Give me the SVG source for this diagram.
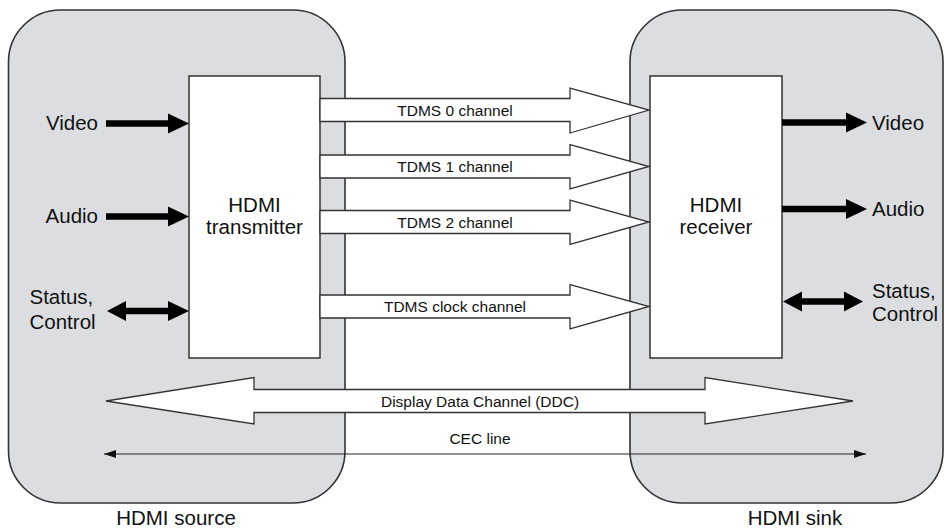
<svg xmlns="http://www.w3.org/2000/svg" width="950" height="528" viewBox="0 0 950 528">
<style>
.panel{fill:#dcdde0;stroke:#333;stroke-width:1.6}
.box{fill:#fff;stroke:#333;stroke-width:1.5}
.thick{fill:#000}
.wide{fill:#fff;stroke:#333;stroke-width:1.3;stroke-linejoin:miter}
.big{font-family:"Liberation Sans",Arial,sans-serif;font-size:20.5px;fill:#111}
.small{font-family:"Liberation Sans",Arial,sans-serif;font-size:15.5px;fill:#111;text-anchor:middle}
.cec{stroke:#222;stroke-width:1.2;fill:none}
</style>
<defs>
<marker id="ah" viewBox="0 0 12 8" refX="12" refY="4" markerWidth="12" markerHeight="8" markerUnits="userSpaceOnUse" orient="auto-start-reverse">
<path d="M0,0 L12,4 L0,8 Z" fill="#111"/>
</marker>
</defs>
<g id="hdmi-source">
<rect class="panel" x="8.5" y="10" width="336.5" height="493" rx="52" ry="52"/>
<text class="big" x="176" y="525" text-anchor="middle">HDMI source</text>
</g>
<g id="hdmi-sink">
<rect class="panel" x="630" y="10" width="313" height="493" rx="52" ry="52"/>
<text class="big" x="795" y="525" text-anchor="middle">HDMI sink</text>
</g>
<g id="transmitter">
<rect class="box" x="189" y="76" width="131" height="282"/>
<text class="big" x="254.5" y="212" text-anchor="middle">HDMI</text>
<text class="big" x="254.5" y="234" text-anchor="middle">transmitter</text>
</g>
<g id="receiver">
<rect class="box" x="650" y="76" width="132" height="282"/>
<text class="big" x="716" y="212" text-anchor="middle">HDMI</text>
<text class="big" x="716" y="234" text-anchor="middle">receiver</text>
</g>
<g id="src-video">
<text class="big" x="98" y="130" text-anchor="end">Video</text>
</g>
<g id="src-audio">
<text class="big" x="98" y="223" text-anchor="end">Audio</text>
</g>
<g id="src-status">
<text class="big" x="29.5" y="304">Status,</text>
<text class="big" x="29.5" y="329">Control</text>
</g>
<g id="sink-video">
<text class="big" x="872" y="129.5">Video</text>
</g>
<g id="sink-audio">
<text class="big" x="872" y="216">Audio</text>
</g>
<g id="sink-status">
<text class="big" x="872" y="298">Status,</text>
<text class="big" x="872" y="321">Control</text>
</g>
<g id="connectors">
<polygon class="thick" points="106,120.2 168,120.2 168,113.5 189,123.5 168,133.5 168,126.8 106,126.8"/>
<polygon class="thick" points="106,213.2 168,213.2 168,206.5 189,216.5 168,226.5 168,219.8 106,219.8"/>
<polygon class="thick" points="107,311 126,301 126,307.7 168,307.7 168,301 189,311 168,321 168,314.3 126,314.3 126,321"/>
<polygon class="thick" points="782,119.2 846,119.2 846,112.5 867,122.5 846,132.5 846,125.8 782,125.8"/>
<polygon class="thick" points="782,205.7 846,205.7 846,199 867,209 846,219 846,212.3 782,212.3"/>
<polygon class="thick" points="783,301.5 802,291.5 802,298.2 844,298.2 844,291.5 863,301.5 844,311.5 844,304.8 802,304.8 802,311.5"/>
<polygon class="wide" points="320,98.5 570,98.5 570,88 649,110 570,133 570,121.5 320,121.5"/>
<polygon class="wide" points="320,155 570,155 570,144.5 649,166.5 570,189 570,178 320,178"/>
<polygon class="wide" points="320,210.5 570,210.5 570,200 649,222 570,244.5 570,233.5 320,233.5"/>
<polygon class="wide" points="320,295 570,295 570,284.5 649,306.5 570,329 570,318 320,318"/>
<polygon class="wide" points="106,401 254,377.5 254,389.5 705,389.5 705,377.5 853,401 705,424 705,412.5 254,412.5 254,424"/>
<line class="cec" x1="104" y1="454" x2="866" y2="454" marker-start="url(#ah)" marker-end="url(#ah)"/>
<text class="small" x="455" y="115.5">TDMS 0 channel</text>
<text class="small" x="455" y="172">TDMS 1 channel</text>
<text class="small" x="455" y="227.5">TDMS 2 channel</text>
<text class="small" x="455" y="312">TDMS clock channel</text>
<text class="small" x="480" y="406.5">Display Data Channel (DDC)</text>
<text class="small" x="480" y="443.5">CEC line</text>
</g>
</svg>
